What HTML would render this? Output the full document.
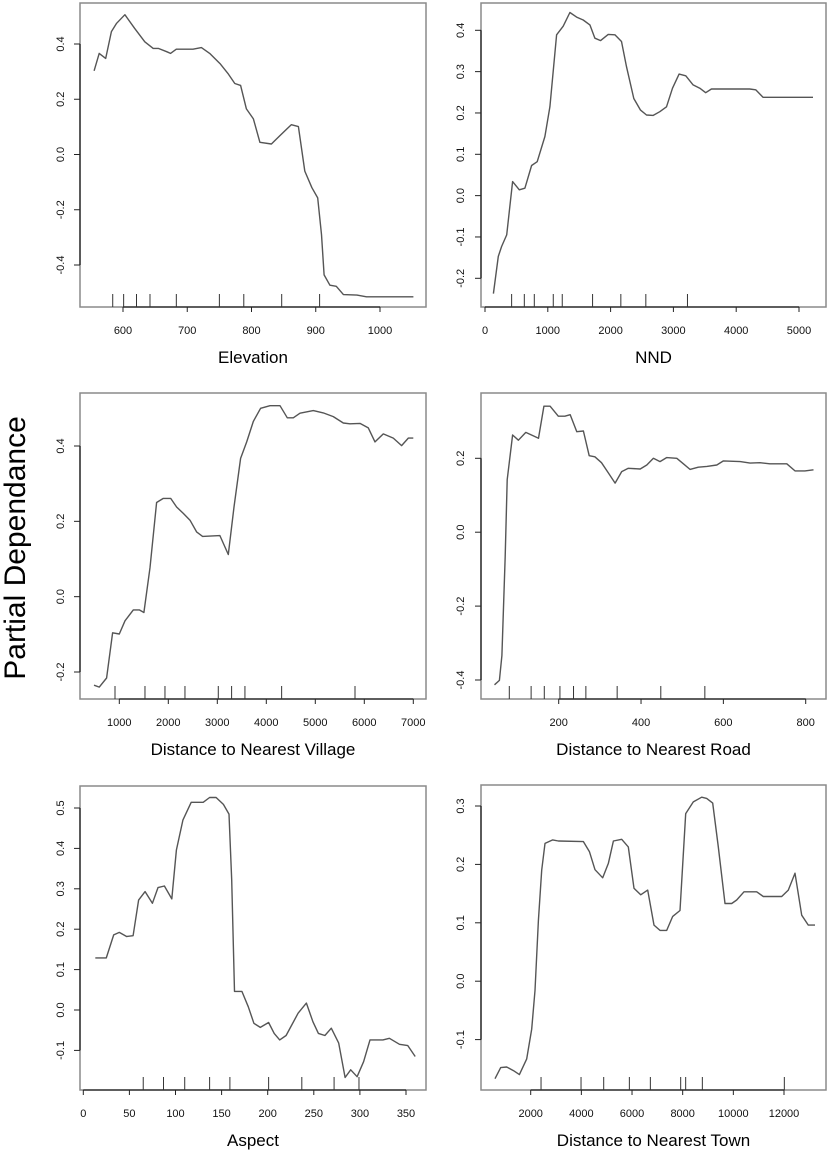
<!DOCTYPE html>
<html><head><meta charset="utf-8"><style>
html,body{margin:0;padding:0;background:#fff;}
svg{display:block;font-family:"Liberation Sans",Arial,sans-serif;}
</style></head><body>
<svg id="chart" width="830" height="1151" viewBox="0 0 830 1151" xmlns="http://www.w3.org/2000/svg">
<text x="0" y="0" transform="translate(25,548) rotate(-90)" text-anchor="middle" font-size="30" fill="#000">Partial Dependance</text>
</svg>
<script>
// ---- Elevation ----
const elevX=[555,563,573,582,590,603,618,634,647,655,668,674,683,709,722,735,751,764,774,783,792,803,813,831,844,862,873,883,894,903,909,913,922,932,943,964,979,1052];
const elevY=[0.303,0.366,0.348,0.445,0.475,0.506,0.457,0.408,0.384,0.384,0.372,0.366,0.381,0.381,0.387,0.366,0.329,0.291,0.257,0.250,0.165,0.129,0.044,0.038,0.068,0.108,0.101,-0.060,-0.120,-0.157,-0.29,-0.436,-0.473,-0.477,-0.507,-0.509,-0.515,-0.515];
const elevRug=[584,601,621,642,683,750,788,847,906];
const elevXTicks=[600,700,800,900,1000];
const elevYTicks=[-0.4,-0.2,0.0,0.2,0.4];
// ---- NND ----
const nndX=[133,212,265,345,440,546,636,742,832,954,1034,1140,1246,1352,1458,1564,1670,1750,1840,1962,2068,2174,2253,2370,2476,2572,2678,2784,2890,2985,3091,3197,3314,3420,3515,3605,3791,4215,4310,4427,5223];
const nndY=[-0.237,-0.147,-0.123,-0.095,0.034,0.014,0.018,0.073,0.082,0.143,0.215,0.389,0.41,0.443,0.432,0.425,0.413,0.381,0.375,0.390,0.389,0.373,0.312,0.235,0.207,0.195,0.194,0.203,0.215,0.260,0.294,0.290,0.268,0.260,0.249,0.258,0.258,0.258,0.256,0.238,0.238];
const nndRug=[424,626,785,1087,1230,1713,2163,2561,3224];
const nndXTicks=[0,1000,2000,3000,4000,5000];
const nndYTicks=[-0.2,-0.1,0.0,0.1,0.2,0.3,0.4];
// ---- Village ----
const vilX=[483,592,741,864,1000,1116,1286,1408,1503,1626,1762,1898,2048,2170,2306,2442,2578,2701,3054,3224,3340,3476,3599,3735,3884,4075,4279,4429,4551,4687,4959,5163,5367,5571,5707,5912,6082,6218,6388,6592,6762,6898,7000];
const vilY=[-0.235,-0.240,-0.216,-0.096,-0.099,-0.064,-0.035,-0.035,-0.042,0.077,0.250,0.261,0.261,0.238,0.221,0.203,0.172,0.160,0.162,0.112,0.238,0.367,0.411,0.465,0.500,0.507,0.507,0.475,0.475,0.487,0.494,0.488,0.478,0.461,0.459,0.460,0.448,0.411,0.432,0.421,0.401,0.421,0.421];
const vilRug=[912,1524,1932,2340,3020,3292,3564,4313,5810];
const vilXTicks=[1000,2000,3000,4000,5000,6000,7000];
const vilYTicks=[-0.2,0.0,0.2,0.4];
// ---- Road ----
const roadX=[44,56,62,70,75,88,102,120,134,151,164,179,199,215,228,244,260,274,288,304,321,337,353,369,398,414,430,446,462,487,503,519,539,560,584,600,641,665,689,713,754,774,798,819];
const roadY=[-0.413,-0.401,-0.334,-0.065,0.142,0.263,0.249,0.270,0.263,0.254,0.341,0.341,0.314,0.314,0.318,0.272,0.274,0.207,0.204,0.188,0.160,0.133,0.164,0.173,0.171,0.182,0.200,0.191,0.202,0.200,0.185,0.170,0.176,0.178,0.182,0.193,0.191,0.187,0.188,0.185,0.185,0.166,0.166,0.169];
const roadRug=[80,133,165,203,236,266,342,448,555];
const roadXTicks=[200,400,600,800];
const roadYTicks=[-0.4,-0.2,0.0,0.2];
// ---- Aspect ----
const aspX=[13,25,33,39,47,54,60,67,75,81,88,96,101,108,117,130,137,144,152,158,161,164,172,179,185,192,201,207,213,220,233,242,249,255,262,269,277,284,290,297,304,311,325,332,343,352,360];
const aspY=[0.129,0.129,0.186,0.192,0.182,0.184,0.272,0.293,0.264,0.303,0.307,0.275,0.396,0.470,0.514,0.514,0.526,0.526,0.509,0.485,0.322,0.046,0.046,0.008,-0.033,-0.043,-0.031,-0.058,-0.074,-0.063,-0.008,0.017,-0.029,-0.058,-0.063,-0.045,-0.082,-0.167,-0.148,-0.165,-0.128,-0.074,-0.074,-0.070,-0.085,-0.088,-0.115];
const aspRug=[65,87,110,137,159,201,237,272,299];
const aspXTicks=[0,50,100,150,200,250,300,350];
const aspYTicks=[-0.1,0.0,0.1,0.2,0.3,0.4,0.5];
// ---- Town ----
const townX=[592,816,1053,1316,1553,1842,2039,2171,2303,2434,2566,2868,3092,4079,4316,4539,4842,5066,5263,5592,5855,6079,6342,6618,6868,7105,7368,7605,7895,8118,8421,8750,8947,9184,9408,9671,9934,10132,10421,10921,11184,11908,12171,12434,12697,12961,13224];
const townY=[-0.167,-0.148,-0.147,-0.153,-0.160,-0.133,-0.082,-0.016,0.104,0.190,0.236,0.242,0.240,0.239,0.222,0.191,0.177,0.202,0.240,0.243,0.230,0.159,0.148,0.156,0.096,0.087,0.087,0.111,0.121,0.287,0.307,0.315,0.313,0.305,0.230,0.133,0.133,0.139,0.153,0.153,0.145,0.145,0.156,0.185,0.113,0.096,0.096];
const townRug=[2408,3987,4882,5895,6724,7921,8118,8776,12013];
const townXTicks=[2000,4000,6000,8000,10000,12000];
const townYTicks=[-0.1,0.0,0.1,0.2,0.3];

const NS="http://www.w3.org/2000/svg";
const svg=document.getElementById('chart');
function mk(tag,attrs,parent){const e=document.createElementNS(NS,tag);for(const k in attrs)e.setAttribute(k,attrs[k]);(parent||svg).appendChild(e);return e;}
function lin(d0,d1,p0,p1){return v=>p0+(v-d0)*(p1-p0)/(d1-d0);}
function fmt(v,step){const dec=step<1?(Math.abs(step*10-Math.round(step*10))<1e-6?1:2):0;return v.toFixed(dec).replace('-','-');}

function panel(name,title,box,xa,ya,xs,ys,rug,xt,yt,ystep,labelX){
  const g=mk('g',{});
  
  
  const [L,T,R,B]=box;
  const sx=lin(xa[0],xa[1],xa[2],xa[3]);
  const sy=lin(ya[0],ya[1],ya[2],ya[3]);
  const frame=mk('rect',{x:L,y:T,width:R-L,height:B-T,fill:'none',stroke:'#8a8a8a','stroke-width':1.5},g);
  
  
  // x axis
  const xg=mk('g',{},g);
  
  
  mk('line',{x1:sx(xt[0]),x2:sx(xt[xt.length-1]),y1:B,y2:B,stroke:'#222','stroke-width':1.3},xg);
  xt.forEach(t=>{
    mk('line',{x1:sx(t),x2:sx(t),y1:B,y2:B+5,stroke:'#222','stroke-width':1},xg);
    const lb=mk('text',{x:sx(t),y:B+27,'text-anchor':'middle','font-size':11,fill:'#111'},xg);
    
    
    lb.textContent=String(t);
  });
  // y axis
  const yg=mk('g',{},g);
  
  
  mk('line',{x1:L,x2:L,y1:sy(yt[0]),y2:sy(yt[yt.length-1]),stroke:'#222','stroke-width':1.3},yg);
  yt.forEach(t=>{
    const y=sy(t);
    mk('line',{x1:L-6,x2:L,y1:y,y2:y,stroke:'#222','stroke-width':1},yg);
    const lb=mk('text',{x:0,y:0,transform:`translate(${labelX+4},${y}) rotate(-90)`,'text-anchor':'middle','font-size':11,fill:'#111'},yg);
    
    
    lb.textContent=t.toFixed(1);
  });
  // rug
  const rg=mk('g',{},g);
  
  
  rug.forEach(r=>{mk('line',{x1:sx(r),x2:sx(r),y1:B,y2:B-13,stroke:'#333','stroke-width':1},rg);});
  // line
  const pts=xs.map((x,i)=>sx(x).toFixed(1)+','+sy(ys[i]).toFixed(1)).join(' ');
  const pl=mk('polyline',{points:pts,fill:'none',stroke:'#555','stroke-width':1.4,'stroke-linejoin':'round'},g);
  
  
  const tt=mk('text',{x:(L+R)/2,y:B+56,'text-anchor':'middle','font-size':17,fill:'#000'},g);
  
  
  tt.textContent=title;
}
panel('elevation','Elevation',[80,3,426,307],[600,1000,123,380],[0.4,-0.4,44,265],elevX,elevY,elevRug,elevXTicks,elevYTicks,0.2,60);
panel('nnd','NND',[481,3,826,307],[0,5000,485,799],[0.4,-0.2,30.3,278.3],nndX,nndY,nndRug,nndXTicks,nndYTicks,0.1,460);
panel('village','Distance to Nearest Village',[80,393,426,699],[1000,7000,119.3,413.3],[0.4,-0.2,446,672],vilX,vilY,vilRug,vilXTicks,vilYTicks,0.2,60);
panel('road','Distance to Nearest Road',[481,393,826,699],[200,800,558.7,805.7],[0.2,-0.4,458.3,680],roadX,roadY,roadRug,roadXTicks,roadYTicks,0.2,460);
panel('aspect','Aspect',[80,786,426,1090],[0,350,83.3,406],[0.5,-0.1,808,1050.4],aspX,aspY,aspRug,aspXTicks,aspYTicks,0.1,60);
panel('town','Distance to Nearest Town',[481,785,826,1090],[2000,12000,530.7,784],[0.3,-0.1,806,1039.6],townX,townY,townRug,townXTicks,townYTicks,0.1,460);
</script>
</body></html>
